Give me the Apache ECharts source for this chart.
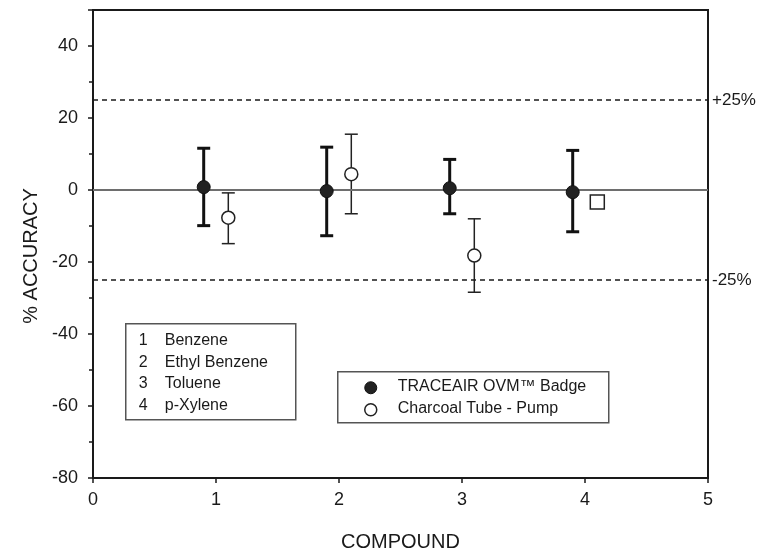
<!DOCTYPE html>
<html>
<head>
<meta charset="utf-8">
<script src="https://cdn.jsdelivr.net/npm/echarts@6/dist/echarts.min.js"></script>
<style>
  html, body { margin: 0; padding: 0; background: #fff; }
  #main { width: 773px; height: 557px; }
</style>
</head>
<body>
<div id="main"></div>
<script>
// data
var compoundNames = ['Benzene', 'Ethyl Benzene', 'Toluene', 'p-Xylene'];
var badgeX = [0.9, 1.9, 2.9, 3.9];
var badgeMean = [0.8, -0.3, 0.5, -0.6];
var badgeLow = [-9.9, -12.7, -6.6, -11.6];
var badgeHigh = [11.6, 11.9, 8.5, 11.0];
var tubeX = [1.1, 2.1, 3.1, 4.1];
var tubeMean = [-7.7, 4.4, -18.2, -3.3];
var tubeLow = [-14.9, -6.6, -28.4, -4.6];
var tubeHigh = [-0.8, 15.5, -8.0, -2.0];
var limits = [25, -25];
var limitLabels = ['+25%', '-25%'];
var xTicks = [0, 1, 2, 3, 4, 5];
var yTicks = [-80, -60, -40, -20, 0, 20, 40];

var FONT = '"Liberation Sans", Arial, sans-serif';
var INK = '#1a1a1a';

function zip3(a, b, c) {
    return a.map(function (v, i) { return [v, b[i], c[i]]; });
}

function errorBars(stroke, width, capHalf) {
    return function (params, api) {
        var x = api.value(0);
        var top = api.coord([x, api.value(2)]);
        var bot = api.coord([x, api.value(1)]);
        var st = { stroke: stroke, lineWidth: width };
        return {
            type: 'group',
            children: [
                { type: 'line', shape: { x1: top[0], y1: top[1], x2: bot[0], y2: bot[1] }, style: st },
                { type: 'line', shape: { x1: top[0] - capHalf, y1: top[1], x2: top[0] + capHalf, y2: top[1] }, style: st },
                { type: 'line', shape: { x1: bot[0] - capHalf, y1: bot[1], x2: bot[0] + capHalf, y2: bot[1] }, style: st }
            ]
        };
    };
}

var tubeData = tubeX.map(function (x, i) {
    var d = { value: [x, tubeMean[i]] };
    // last one drawn as a small square in the figure
    if (i === tubeX.length - 1) { d.symbol = 'rect'; d.symbolSize = [14, 14]; }
    return d;
});

var myChart = echarts.init(document.getElementById('main'));

var option = {
    backgroundColor: '#fff',
    animation: false,
    grid: {
        left: 93, right: 65, top: 10, bottom: 79,
        show: true, borderColor: INK, borderWidth: 2
    },
    xAxis: {
        type: 'value',
        min: xTicks[0], max: xTicks[xTicks.length - 1], interval: 1,
        name: 'COMPOUND',
        nameLocation: 'middle',
        nameGap: 54,
        nameTextStyle: { color: INK, fontSize: 20, fontFamily: FONT },
        axisLine: { show: true, onZero: false, lineStyle: { color: INK, width: 2 } },
        axisTick: { show: true, length: 5, lineStyle: { color: INK, width: 1.5 } },
        axisLabel: { color: INK, fontSize: 18, fontFamily: FONT, margin: 13 },
        splitLine: { show: false }
    },
    yAxis: {
        type: 'value',
        min: -80, max: 50, interval: 20,
        name: '% ACCURACY',
        nameLocation: 'middle',
        nameGap: 41,
        nameTextStyle: { color: INK, fontSize: 20, fontFamily: FONT, padding: [0, 0, 0, -24] },
        axisLine: { show: true, onZero: false, lineStyle: { color: INK, width: 2 } },
        axisTick: { show: true, length: 5, lineStyle: { color: INK, width: 1.5 } },
        minorTick: { show: true, splitNumber: 2, length: 4, lineStyle: { color: INK, width: 1.5 } },
        axisLabel: {
            color: INK, fontSize: 18, fontFamily: FONT, margin: 15,
            showMaxLabel: false,
            formatter: function (v) { return yTicks.indexOf(v) >= 0 ? String(v) : ''; }
        },
        splitLine: { show: false }
    },
    series: [
        {
            // zero line and +/-25% limits
            type: 'line',
            data: [],
            markLine: {
                silent: true,
                symbol: 'none',
                data: [
                    { yAxis: 0, lineStyle: { type: 'solid', color: '#6e6e6e', width: 2 }, label: { show: false } }
                ].concat(limits.map(function (v, i) {
                    return {
                        yAxis: v,
                        lineStyle: { type: [5, 4], color: INK, width: 1.5 },
                        label: {
                            show: true, position: 'end', distance: 4,
                            formatter: limitLabels[i],
                            color: INK, fontSize: 17, fontFamily: FONT
                        }
                    };
                }))
            }
        },
        {
            name: 'badge bars',
            type: 'custom',
            renderItem: errorBars('#111', 3, 6.5),
            data: zip3(badgeX, badgeLow, badgeHigh),
            encode: { x: 0, y: [1, 2] },
            z: 3
        },
        {
            name: 'tube bars',
            type: 'custom',
            renderItem: errorBars('#222', 1.5, 6.5),
            data: zip3(tubeX, tubeLow, tubeHigh),
            encode: { x: 0, y: [1, 2] },
            z: 3
        },
        {
            name: 'TRACEAIR OVM Badge',
            type: 'scatter',
            symbol: 'circle',
            symbolSize: 13,
            itemStyle: { color: '#222', borderColor: '#111', borderWidth: 1, opacity: 1 },
            data: badgeX.map(function (x, i) { return [x, badgeMean[i]]; }),
            z: 5
        },
        {
            name: 'Charcoal Tube - Pump',
            type: 'scatter',
            symbol: 'circle',
            symbolSize: 13,
            itemStyle: { color: '#fff', borderColor: '#222', borderWidth: 1.5, opacity: 1 },
            data: tubeData,
            z: 5
        }
    ],
    graphic: [
        {
            type: 'group', left: 125, top: 323,
            children: [
                { type: 'rect', shape: { x: 0, y: 0, width: 170, height: 96 }, style: { fill: '#fff', stroke: '#555', lineWidth: 1.5 } }
            ].concat(compoundNames.map(function (n, i) {
                return {
                    type: 'group', x: 0, y: 9 + i * 21.5,
                    children: [
                        { type: 'text', x: 13, y: 0, style: { text: String(i + 1), fill: INK, font: '16px ' + FONT } },
                        { type: 'text', x: 39, y: 0, style: { text: n, fill: INK, font: '16px ' + FONT } }
                    ]
                };
            }))
        },
        {
            type: 'group', left: 337, top: 371,
            children: [
                { type: 'rect', shape: { x: 0, y: 0, width: 271, height: 51 }, style: { fill: '#fff', stroke: '#555', lineWidth: 1.5 } },
                { type: 'circle', shape: { cx: 33, cy: 16, r: 6 }, style: { fill: '#222', stroke: '#111', lineWidth: 1 } },
                { type: 'circle', shape: { cx: 33, cy: 38, r: 6 }, style: { fill: '#fff', stroke: '#222', lineWidth: 1.5 } },
                { type: 'text', x: 60, y: 7, style: { text: 'TRACEAIR OVM\u2122 Badge', fill: INK, font: '16px ' + FONT } },
                { type: 'text', x: 60, y: 29, style: { text: 'Charcoal Tube - Pump', fill: INK, font: '16px ' + FONT } }
            ]
        }
    ]
};

myChart.setOption(option);
</script>
</body>
</html>
